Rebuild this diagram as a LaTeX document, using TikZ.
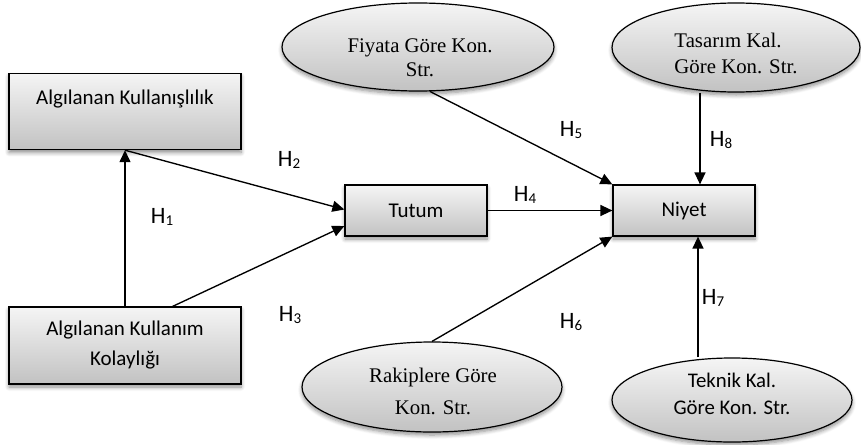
\documentclass[tikz,border=0pt]{standalone}
\usepackage{fontspec}
\setmainfont{Liberation Serif}
\newfontfamily\calfont{Carlito}
\usetikzlibrary{shapes.geometric,arrows.meta,shadows.blur}

% hypothesis label: H with a lowered index
\newcommand{\hyp}[1]{H\raisebox{-2pt}{\fontsize{15}{15}\selectfont #1}}

\begin{document}
\begin{tikzpicture}[x=1pt,y=-1pt,
  shadedfill/.style={top color=black!4, bottom color=black!24, draw=black, line width=1.2pt,
    blur shadow={shadow xshift=0pt, shadow yshift=-3pt, shadow blur radius=4pt,
                 shadow blur steps=6, shadow opacity=45}},
  box/.style={shadedfill, rectangle, inner sep=0pt,
    font=\calfont\fontsize{21}{30}\selectfont},
  oval/.style={shadedfill, ellipse, inner sep=0pt},
  ovaltext/.style={inner sep=0pt, align=center},
  link/.style={line width=1.35pt, -{Triangle[length=12pt,width=11pt]}},
  hlab/.style={inner sep=0pt, font=\calfont\fontsize{23.5}{24}\selectfont}
]
\useasboundingbox (0,0) rectangle (861,444);

% rectangular constructs
\node[box, anchor=north, minimum width=232pt, text height=31pt, text depth=45pt]
  (use) at (125,73) {Algılanan Kullanışlılık};
\node[box, align=center, minimum width=232pt, minimum height=77pt]
  (ease) at (125,345.5) {Algılanan Kullanım\\Kolaylığı};
\node[box, minimum width=142pt, minimum height=51pt] (att) at (416,210.5) {Tutum};
\node[box, minimum width=142pt, minimum height=51pt] (int) at (684,210.5) {Niyet};

% elliptical constructs
\node[oval, minimum width=272pt, minimum height=88pt] (price) at (418,47) {};
\node[ovaltext, font=\fontsize{20.8}{24}\selectfont] (pricetxt) at (420,58)
  {Fiyata Göre Kon.\\Str.};

\node[oval, minimum width=248pt, minimum height=89pt] (design) at (736,47.5) {};
\node[ovaltext, align=left, font=\fontsize{20.8}{26}\selectfont] (designtxt) at (736,53)
  {Tasarım Kal.\\Göre Kon. Str.\hspace{22pt}};

\node[oval, minimum width=260pt, minimum height=90pt] (rival) at (432,387) {};
\node[ovaltext, font=\fontsize{20.8}{32}\selectfont] (rivaltxt) at (433,391)
  {Rakiplere Göre\\Kon. Str.};

\node[oval, minimum width=240pt, minimum height=84pt] (tech) at (732,400) {};
\node[ovaltext, font=\calfont\fontsize{20.8}{27}\selectfont] (techtxt) at (732,394)
  {Teknik Kal.\\Göre Kon. Str.};

% connectors
\draw[link] (ease.north) -- (use.south);
\draw[link] (use.south) -- ([yshift=1pt]att.west);
\draw[link] ([xshift=-69pt]ease.north east) -- ([yshift=-15.5pt]att.west);
\draw[link] (att.east) -- (int.west);
\draw[link] (price.-75) -- (int.north west);
\draw[link] (rival.north) -- (int.south west);
\coordinate (h8x) at ([xshift=16pt]int.north);
\coordinate (h7x) at ([xshift=14pt]int.south);
\draw[link] (h8x |- design.south) -- (h8x);
\draw[link] (h7x |- tech.north) -- (h7x);

% hypothesis labels
\node[hlab] (h1) at (162,217) {\hyp{1}};
\node[hlab] (h2) at (289,160) {\hyp{2}};
\node[hlab] (h3) at (290,315) {\hyp{3}};
\node[hlab] (h4) at (525,195) {\hyp{4}};
\node[hlab] (h5) at (571,130) {\hyp{5}};
\node[hlab] (h6) at (571,322) {\hyp{6}};
\node[hlab] (h7) at (713,298) {\hyp{7}};
\node[hlab] (h8) at (721,140) {\hyp{8}};
\end{tikzpicture}
\end{document}
